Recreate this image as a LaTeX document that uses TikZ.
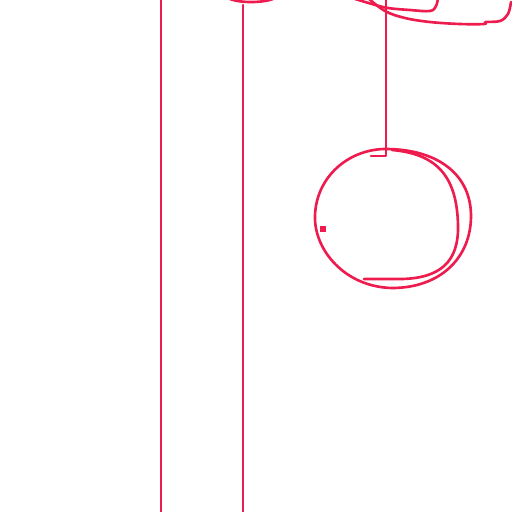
\documentclass[tikz,border=0pt]{standalone}
\usepackage{xcolor}
\usetikzlibrary{calc}
\definecolor{ink}{HTML}{EE1C4E}
\begin{document}
\begin{tikzpicture}[x=0.02cm,y=-0.02cm,
  pen/.style={draw=ink,line width=1.5pt,line cap=round,line join=round},
  dot/.style={fill=ink,inner sep=0pt,minimum size=3.5pt}]
  \useasboundingbox (0,0) rectangle (512,512);
  % poles
  \coordinate (p1top) at (161,-2); \coordinate (p1bot) at (161,514);
  \coordinate (p2top) at (243,5); \coordinate (p2bot) at (243,514);
  \draw[pen] (p1top) -- (p1bot);
  \draw[pen] (p2top) -- (p2bot);
  \draw[pen] (230,-1) .. controls (240,3) and (262,3) .. (273,-1);
  % string and hook
  \coordinate (top) at (386,-2);
  \coordinate (knot) at (386,156);
  \coordinate (hook) at (371,156);
  \draw[pen] (top) -- (knot) -- (hook);
  % top right scribble
  \draw[pen] plot[smooth,tension=0.6] coordinates {(352,-2) (372,4) (388,8) (410,10) (430,11) (436,6) (438,-2)};
  \draw[pen] plot[smooth,tension=0.6] coordinates {(368,-2) (385,11) (405,18) (430,22) (460,24) (484,24) (486,22) (500,21) (508,14) (511,2)};
  % ball
  \draw[pen] (388,149) .. controls (350,148) and (316,176) .. (315,216)
    .. controls (314,250) and (345,287) .. (392,288)
    .. controls (440,288) and (471,258) .. (471,216)
    .. controls (471,176) and (440,150) .. (388,149);
  \draw[pen] (392,150) .. controls (440,154) and (457,180) .. (458,225)
    .. controls (459,262) and (440,278) .. (402,279) -- (364,279);
  \node[dot] (spot) at (323,229) {};
\end{tikzpicture}
\end{document}
